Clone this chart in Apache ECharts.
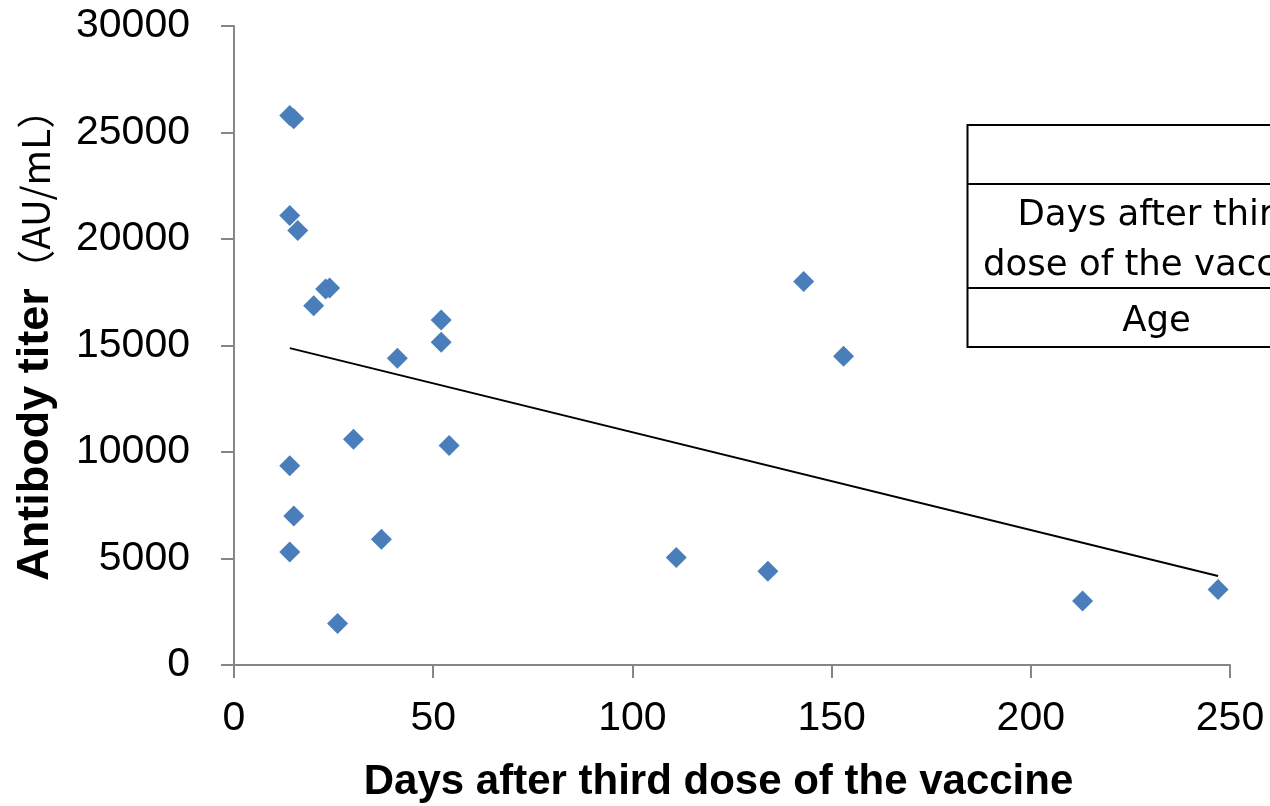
<!DOCTYPE html>
<html>
<head>
<meta charset="utf-8">
<script src="https://cdn.jsdelivr.net/npm/echarts@6/dist/echarts.min.js"></script>
<style>
  html, body { margin: 0; padding: 0; background: #fff; }
  #chart { width: 1270px; height: 806px; }
</style>
</head>
<body>
<div id="chart"></div>
<script>
// days after third dose, antibody titer (AU/mL)
const days = [14, 15, 14, 16, 23, 24, 20, 52, 52, 41, 30, 54, 14, 15, 37, 14, 26, 143, 153, 111, 134, 213, 247];
const titers = [25800, 25650, 21100, 20400, 17650, 17700, 16870, 16200, 15150, 14400, 10600, 10300, 9350, 7000, 5900, 5300, 1950, 18000, 14500, 5050, 4400, 3000, 3550];
const xTicks = [0, 50, 100, 150, 200, 250];
const yTicks = [0, 5000, 10000, 15000, 20000, 25000, 30000];
const tableRows = ['', 'Days after third\ndose of the vaccine', 'Age'];

const points = days.map((d, i) => [d, titers[i]]);

// least squares trend line
const n = days.length;
const mx = days.reduce((s, v) => s + v, 0) / n;
const my = titers.reduce((s, v) => s + v, 0) / n;
let sxy = 0, sxx = 0;
for (let i = 0; i < n; i++) {
  sxy += (days[i] - mx) * (titers[i] - my);
  sxx += (days[i] - mx) * (days[i] - mx);
}
const slope = sxy / sxx;
const icpt = my - slope * mx;
const xMin = Math.min(...days), xMax = Math.max(...days);
const trend = [[xMin, icpt + slope * xMin], [xMax, icpt + slope * xMax]];

const chart = echarts.init(document.getElementById('chart'));
const axisGrey = '#868686';
const font = '"Liberation Sans", Arial, sans-serif';
const tableFont = '"DejaVu Sans", sans-serif';

const option = {
  backgroundColor: '#fff',
  animation: false,
  grid: { left: 234, right: 40, top: 26, bottom: 141, outerBoundsMode: 'none' },
  xAxis: {
    type: 'value',
    min: xTicks[0],
    max: xTicks[xTicks.length - 1],
    interval: 50,
    name: 'Days after third dose of the vaccine',
    nameLocation: 'middle',
    nameGap: 96,
    nameTextStyle: { fontFamily: font, fontWeight: 'bold', fontSize: 42, color: '#000', padding: [0, 27, 0, 0] },
    axisLine: { lineStyle: { color: axisGrey, width: 2 } },
    axisTick: { inside: false, length: 13, lineStyle: { color: axisGrey, width: 2 } },
    axisLabel: { fontFamily: font, fontSize: 41, color: '#000', margin: 33, formatter: v => String(v) },
    splitLine: { show: false }
  },
  yAxis: {
    type: 'value',
    min: yTicks[0],
    max: yTicks[yTicks.length - 1],
    interval: 5000,
    name: '{b|Antibody titer}{n|（AU/mL）}',
    nameLocation: 'middle',
    nameRotate: 90,
    nameGap: 176,
    nameTextStyle: {
      padding: [0, 0, 0, 20],
      rich: {
        b: { fontFamily: font, fontWeight: 'bold', fontSize: 45, color: '#000' },
        n: { fontFamily: '"Noto Sans CJK JP", sans-serif', fontSize: 38.5, color: '#000' }
      }
    },
    axisLine: { show: true, lineStyle: { color: axisGrey, width: 2 } },
    axisTick: { show: true, length: 13, lineStyle: { color: axisGrey, width: 2 } },
    axisLabel: { fontFamily: font, fontSize: 41, color: '#000', margin: 44, formatter: v => String(v) },
    splitLine: { show: false }
  },
  graphic: [
    {
      type: 'group',
      left: 965,
      top: 124,
      children: [
        { type: 'rect', shape: { x: 0, y: 0, width: 420, height: 222 }, style: { fill: '#fff', stroke: '#000', lineWidth: 2 } },
        { type: 'line', shape: { x1: 0, y1: 59, x2: 420, y2: 59 }, style: { stroke: '#000', lineWidth: 2 } },
        { type: 'line', shape: { x1: 0, y1: 163, x2: 420, y2: 163 }, style: { stroke: '#000', lineWidth: 2 } },
        { type: 'text', x: 189, y: 116, style: { text: tableRows[1], fontFamily: tableFont, fontSize: 35.5, lineHeight: 50, fill: '#000', align: 'center', verticalAlign: 'middle' } },
        { type: 'text', x: 189, y: 197, style: { text: tableRows[2], fontFamily: tableFont, fontSize: 35.5, fill: '#000', align: 'center', verticalAlign: 'middle' } }
      ]
    }
  ],
  series: [
    {
      type: 'line',
      data: trend,
      symbol: 'none',
      z: 1,
      lineStyle: { color: '#000', width: 2 }
    },
    {
      type: 'scatter',
      data: points,
      symbol: 'diamond',
      symbolSize: [21, 21],
      z: 3,
      itemStyle: { color: '#4A7EBB', opacity: 1 }
    }
  ]
};

chart.setOption(option);
window.addEventListener('resize', () => chart.resize());
</script>
</body>
</html>
